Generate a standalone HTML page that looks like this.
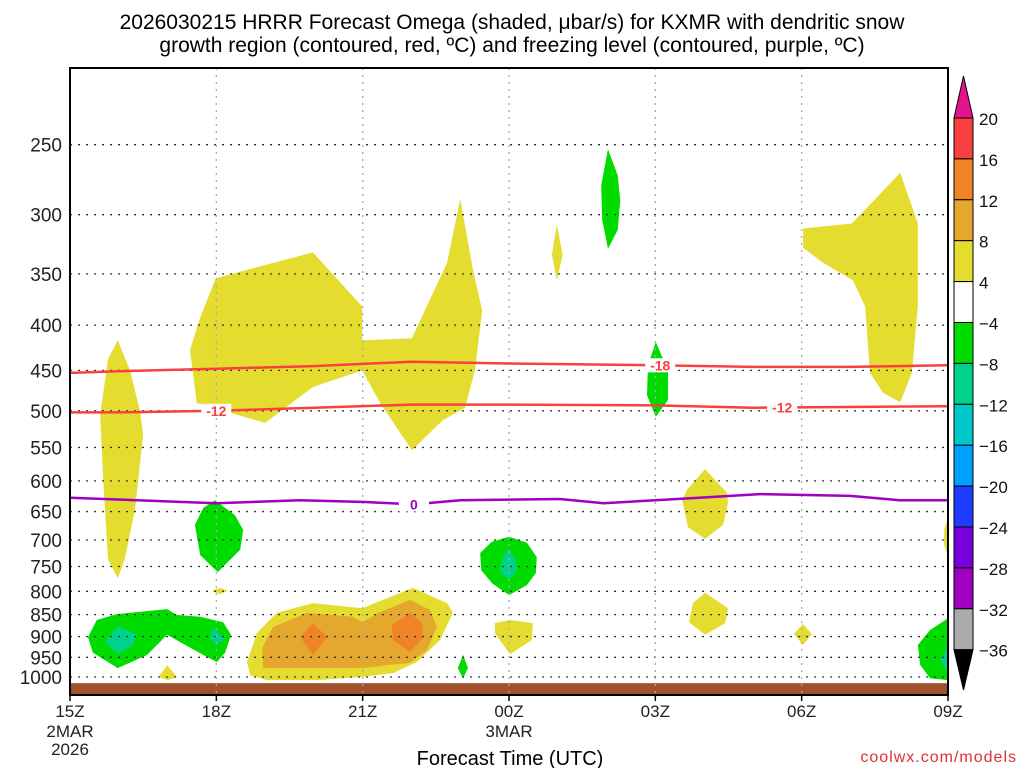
<!DOCTYPE html>
<html><head><meta charset="utf-8">
<style>
html,body{margin:0;padding:0;background:#fff;}
svg{display:block;font-family:"Liberation Sans",sans-serif;}
</style></head>
<body>
<svg id="chart" width="1024" height="768" viewBox="0 0 1024 768" xmlns="http://www.w3.org/2000/svg">
<text x="512" y="29" font-size="21" text-anchor="middle" fill="#000">2026030215 HRRR Forecast Omega (shaded, μbar/s) for KXMR with dendritic snow</text>
<text x="512" y="52" font-size="21" text-anchor="middle" fill="#000">growth region (contoured, red, ºC) and freezing level (contoured, purple, ºC)</text>
<g id="shading"></g>
<g id="grid"></g>
<g id="lines"></g>
<g id="axes"></g>
<g id="cbar"></g>
<text x="510" y="765" font-size="20" text-anchor="middle" fill="#000">Forecast Time (UTC)</text>
<text x="1017" y="762" font-size="16" text-anchor="end" fill="#e03030" letter-spacing="1">coolwx.com/models</text>
</svg>
<script>
// ---- data ----
const yTicks = [250,300,350,400,450,500,550,600,650,700,750,800,850,900,950,1000];
const xTickHours = [0,3,6,9,12,15,18];
const xTickLabels = ["15Z","18Z","21Z","00Z","03Z","06Z","09Z"];
const cbarLevels = [20,16,12,8,4,-4,-8,-12,-16,-20,-24,-28,-32,-36];
const cbarColors = ["#f84040","#f08228","#e5a82f","#e5dc30","#ffffff","#00dc00","#00d28c","#00c8c8","#00a0ff","#1e3cff","#7800dc","#a000c0","#aaaaaa"];
const sfcHours = [0,6,12,18];
const sfcPres = [1016,1016,1016,1016];
const dgzHours = [0,1,3,5,7,9,12,14,16,18];
const dgzMinus18 = [453,451,448,445,440,442,444,446,446,444];
const dgzMinus12 = [502,502,500,496,492,492,493,496,495,494];
const frzHours = [0,3,4.72,6.05,7.05,8.0,10.04,10.94,12.9,14.14,16.0,17.0,18];
const frzLevel = [627,636,631,634,638,631,629,636,627,621,624,631,631];
// shaded omega regions: [color, points [hour, hPa]]
const yellowA = [[0.98,416],[1.23,450],[1.43,499],[1.5,532],[1.33,647],[1.12,737],[0.98,773],[0.78,737],[0.68,599],[0.62,505],[0.78,437]];
const yellowB = [[2.99,354],[4.98,331],[5.99,381],[5.99,416],[7.01,414],[7.73,340],[8.0,288],[8.26,346],[8.45,385],[8.30,450],[8.10,496],[7.65,512],[7.01,554],[6.36,490],[5.99,450],[4.98,470],[4.0,516],[2.60,490],[2.46,427],[2.67,392],[2.97,356]];
const yellowC = [[9.98,308],[10.1,333],[9.98,356],[9.88,333]];
const greenD = [[11.03,253],[11.23,271],[11.28,289],[11.23,312],[11.03,328],[10.91,304],[10.89,278]];
const greenE = [[12.01,418],[12.26,450],[12.26,486],[12.01,508],[11.83,480],[11.85,444]];
const yellowF = [[15.03,311],[16.03,307],[17.02,269],[17.38,307],[17.38,381],[17.26,453],[17.02,489],[16.67,477],[16.4,453],[16.3,381],[16.05,356],[15.44,340],[15.03,327]];
const yellowG = [[13.02,582],[13.47,619],[13.49,636],[13.39,673],[13.02,698],[12.67,677],[12.55,631],[12.65,614]];
const greenH = [[9.0,694],[9.37,705],[9.57,732],[9.55,763],[9.37,787],[9.0,808],[8.65,783],[8.43,757],[8.41,724],[8.65,703]];
const tealH = [[9.0,715],[9.14,737],[9.16,761],[9.0,775],[8.81,761],[8.88,732]];
const yellowI = [[8.71,869],[9.02,862],[9.49,869],[9.47,908],[9.02,942],[8.71,892]];
const yellowJ = [[13.02,803],[13.49,836],[13.43,869],[13.02,896],[12.69,867],[12.77,825]];
const yellowK = [[15.03,871],[15.21,894],[15.03,920],[14.84,894]];
const greenL = [[18,858],[18,1008],[17.63,1003],[17.43,969],[17.38,920],[17.63,885]];
const tealL = [[18,920],[17.84,957],[18,987]];
const yellowM = [[18,661],[17.92,682],[17.92,709],[18,730]];
const yellowN = [[0.98,678],[1.17,709],[0.98,737],[0.82,709]];
const yellowO = [[2.91,799],[3.07,793],[3.24,799],[3.07,806]];
const greenP = [[8.06,944],[8.16,977],[8.06,1003],[7.95,977]];
const yellowQ = [[1.99,969],[2.19,1000],[2.01,1008],[1.82,1000]];
const greenR = [[0.37,901],[0.55,862],[0.96,849],[1.99,838],[2.19,851],[2.67,855],[3.14,867],[3.30,896],[3.18,939],[3.01,962],[2.73,944],[1.99,896],[1.58,944],[0.98,977],[0.47,939]];
const tealR1 = [[0.98,876],[1.37,896],[1.29,920],[0.98,942],[0.72,913]];
const tealR2 = [[2.93,880],[3.18,905],[3.0,920],[2.87,905]];
const yellowS = [[3.63,962],[3.83,892],[4.24,846],[4.98,825],[5.99,836],[7.03,793],[7.73,825],[7.85,846],[7.59,908],[7.11,962],[6.62,990],[5.95,1000],[5.06,1008],[4.04,1008],[3.69,995]];
const goldS = [[3.94,927],[4.16,878],[4.86,846],[5.80,855],[5.99,867],[6.36,844],[6.97,818],[7.38,840],[7.52,878],[7.32,932],[6.97,964],[5.95,977],[4.72,977],[3.96,977]];
const orangeS1 = [[4.98,869],[5.27,901],[4.98,944],[4.72,901]];
const orangeS2 = [[6.97,846],[7.22,869],[7.24,903],[6.97,937],[6.62,908],[6.60,873]];
const greenT = [[2.97,631],[3.38,656],[3.55,682],[3.49,718],[3.03,761],[2.67,728],[2.56,673],[2.73,644]];

const regions = [
 ["yellow-region-a","#e5dc30",yellowA],["yellow-region-b","#e5dc30",yellowB],["yellow-region-c","#e5dc30",yellowC],
 ["green-region-d","#00dc00",greenD],["green-region-e","#00dc00",greenE],["yellow-region-f","#e5dc30",yellowF],
 ["yellow-region-g","#e5dc30",yellowG],["green-region-h","#00dc00",greenH],["teal-region-h","#00d28c",tealH],
 ["yellow-region-i","#e5dc30",yellowI],["yellow-region-j","#e5dc30",yellowJ],["yellow-region-k","#e5dc30",yellowK],
 ["green-region-l","#00dc00",greenL],["teal-region-l","#00d28c",tealL],["yellow-region-m","#e5dc30",yellowM],
 ["yellow-region-n","#e5dc30",yellowN],["yellow-region-o","#e5dc30",yellowO],["green-region-p","#00dc00",greenP],
 ["yellow-region-q","#e5dc30",yellowQ],["green-region-r","#00dc00",greenR],["teal-region-r1","#00d28c",tealR1],
 ["teal-region-r2","#00d28c",tealR2],["yellow-region-s","#e5dc30",yellowS],["gold-region-s","#e5a82f",goldS],
 ["orange-region-s1","#f08228",orangeS1],["orange-region-s2","#f08228",orangeS2],["green-region-t","#00dc00",greenT]
];

// ---- scales ----
const L=70,R=948,T=68,B=695;
function X(h){return L + h*(R-L)/18;}
function Y(p){return 677 + 384*Math.log(p/1000);}
const NS="http://www.w3.org/2000/svg";
function mk(tag,attrs,parent){const e=document.createElementNS(NS,tag);for(const k in attrs)e.setAttribute(k,attrs[k]);parent.appendChild(e);return e;}

const shading=document.getElementById('shading');
regions.forEach(r=>{
  const pts=r[2].map(q=>X(q[0]).toFixed(1)+","+Y(q[1]).toFixed(1)).join(" ");
  const pg=mk('polygon',{points:pts,fill:r[1]},shading);
  
  
});
// ground
{
  let d="M"+X(sfcHours[0])+","+Y(sfcPres[0]);
  for(let i=1;i<sfcHours.length;i++) d+=" L"+X(sfcHours[i])+","+Y(sfcPres[i]);
  d+=" L"+R+","+(B-1)+" L"+L+","+(B-1)+"Z";
  const g=mk('path',{d:d,fill:"#a0522d"},shading);
  
  
}
// grid
const grid=document.getElementById('grid');
yTicks.forEach(p=>{
  const l=mk('line',{x1:L,x2:R,y1:Y(p),y2:Y(p),stroke:"#333","stroke-width":1.3,"stroke-dasharray":"2 6"},grid);
  
  
});
xTickHours.slice(1,-1).forEach(h=>{
  const l=mk('line',{x1:X(h),x2:X(h),y1:T,y2:B,stroke:"#aaa","stroke-width":1.3,"stroke-dasharray":"2 5"},grid);
  
  
});
// contour lines
const lines=document.getElementById('lines');
function line(hs,ps,color,name){
  const d=hs.map((h,i)=>(i?"L":"M")+X(h).toFixed(1)+","+Y(ps[i]).toFixed(1)).join(" ");
  const pth=mk('path',{d:d,fill:"none",stroke:color,"stroke-width":2.5},lines);
  
  
}
line(dgzHours,dgzMinus18,"#f84040","dgz-minus18-line");
line(dgzHours,dgzMinus12,"#f84040","dgz-minus12-line");
line(frzHours,frzLevel,"#a000c0","freezing-level-line");
function interp(hs,ps,h){for(let i=0;i<hs.length-1;i++){if(h>=hs[i]&&h<=hs[i+1]){const t=(h-hs[i])/(hs[i+1]-hs[i]);return ps[i]+t*(ps[i+1]-ps[i]);}}return ps[ps.length-1];}
function label(txt,h,hs,ps,color,name){
  const x=X(h),y=Y(interp(hs,ps,h));
  const r=mk('rect',{x:x-15,y:y-7,width:30,height:14,fill:"#fff"},lines);
  
  
  const t=mk('text',{x:x,y:y+5,"font-size":14,"font-weight":"bold","text-anchor":"middle",fill:color},lines);
  t.textContent=txt;
  
  
}
label("-18",12.1,dgzHours,dgzMinus18,"#f84040","label-minus18");
label("-12",3.0,dgzHours,dgzMinus12,"#f84040","label-minus12-a");
label("-12",14.6,dgzHours,dgzMinus12,"#f84040","label-minus12-b");
label("0",7.05,frzHours,frzLevel,"#a000c0","label-freezing-0");
// axes
const axes=document.getElementById('axes');
const fr=mk('rect',{x:L,y:T,width:R-L,height:B-T,fill:"none",stroke:"#000","stroke-width":2},axes);


yTicks.forEach(p=>{
  const t=mk('text',{x:62,y:Y(p)+7,"font-size":19,"text-anchor":"end",fill:"#222"},axes);
  t.textContent=p;
  
  
});
xTickHours.forEach((h,i)=>{
  const tk=mk('line',{x1:X(h),x2:X(h),y1:B,y2:B+6,stroke:"#000","stroke-width":1.5},axes);
  
  
  const t=mk('text',{x:X(h),y:B+22,"font-size":17,"text-anchor":"middle",fill:"#222"},axes);
  t.textContent=xTickLabels[i];
  
  
});
[["2MAR",0,737],["2026",0,755],["3MAR",9,737]].forEach(s=>{
  const t=mk('text',{x:X(s[1]),y:s[2],"font-size":17,"text-anchor":"middle",fill:"#222"},axes);
  t.textContent=s[0];
  
  
});
// colorbar
const cb=document.getElementById('cbar');
const cx=954,cw=19,c0=118,cs=40.9;
cbarColors.forEach((c,i)=>{
  const r=mk('rect',{x:cx,y:c0+i*cs,width:cw,height:cs,fill:c,stroke:"#000","stroke-width":1},cb);
  
  
});
const ta=mk('polygon',{points:`${cx},${c0} ${cx+cw},${c0} ${cx+cw/2},76`,fill:"#e6128a",stroke:"#000"},cb);


const yb=c0+cbarColors.length*cs;
const ba=mk('polygon',{points:`${cx},${yb} ${cx+cw},${yb} ${cx+cw/2},690`,fill:"#000",stroke:"#000"},cb);


cbarLevels.forEach((v,i)=>{
  const t=mk('text',{x:979,y:c0+i*cs+7,"font-size":17,fill:"#111"},cb);
  t.textContent=(v<0?"\u2212":"")+Math.abs(v);
  
  
});
</script>
</body></html>
